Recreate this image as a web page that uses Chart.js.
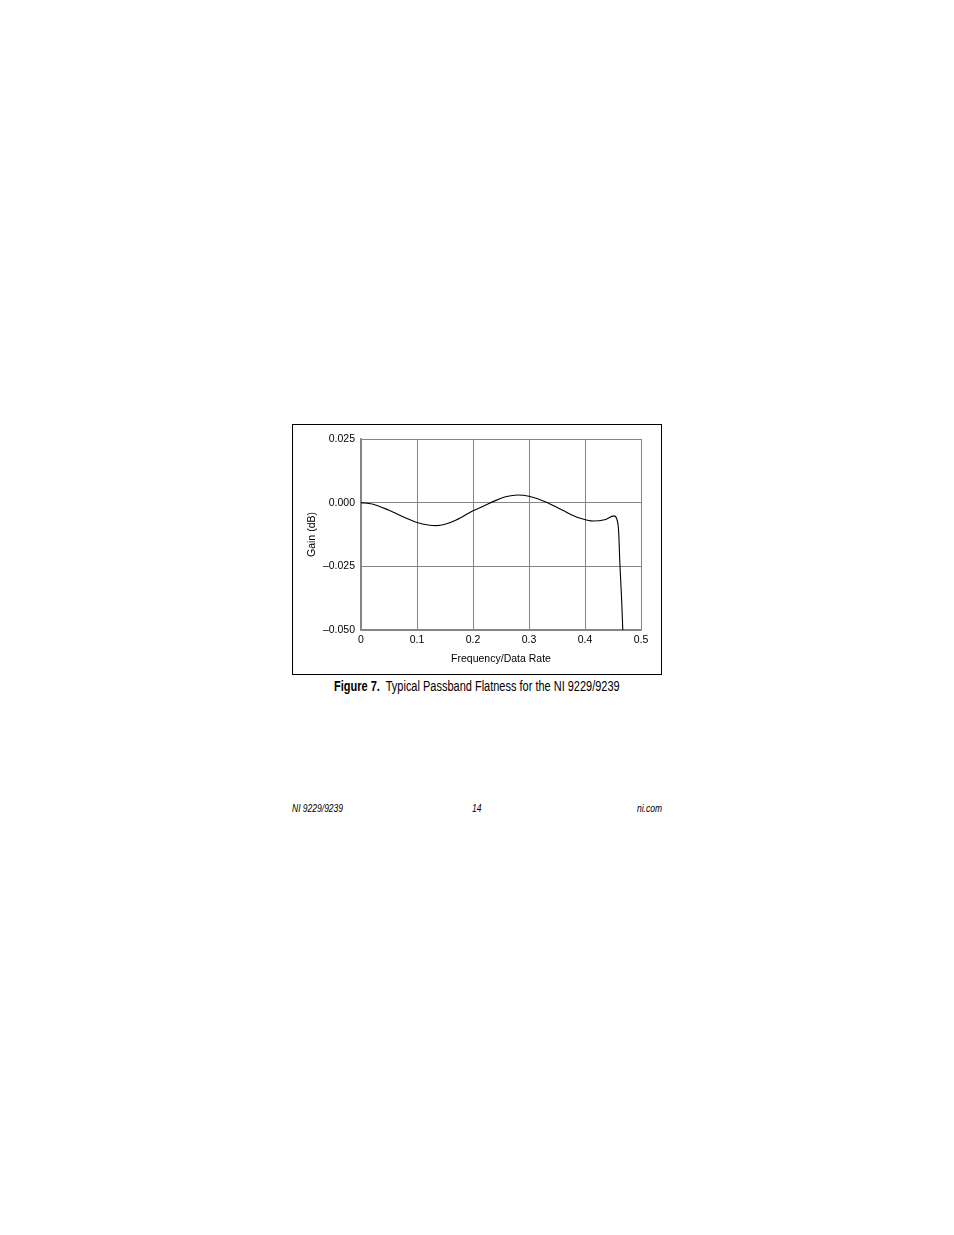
<!DOCTYPE html>
<html>
<head>
<meta charset="utf-8">
<script src="https://cdn.jsdelivr.net/npm/chart.js@4"></script>
<style>
  body { margin: 0; background: #fff; width: 954px; height: 1235px; position: relative; }
  #frame { position: absolute; left: 292px; top: 424px; width: 368px; height: 249px; border: 1px solid #000; }
  #gain { position: absolute; left: 293px; top: 425px; }
  .narrow { font-family: "Liberation Sans", Arial, sans-serif; transform-origin: left center; white-space: pre; }
  #caption { position: absolute; left: 334px; top: 678px; font-size: 14px; line-height: 16px; transform: scaleX(0.785); }
  .foot { position: absolute; top: 803px; font-size: 10px; line-height: 12px; font-style: italic; transform: scaleX(0.85); }
</style>
</head>
<body>
<div id="frame"></div>
<canvas id="gain" width="367" height="248"></canvas>
<div id="caption" class="narrow"><b>Figure 7.</b>  Typical Passband Flatness for the NI 9229/9239</div>
<div class="foot narrow" style="left:292px">NI 9229/9239</div>
<div class="foot narrow" style="left:472px">14</div>
<div class="foot narrow" style="left:637px">ni.com</div>
<script>
// values
const freq = [0, 0.02, 0.05, 0.08, 0.1, 0.12, 0.135, 0.15, 0.17, 0.2, 0.22, 0.24, 0.26, 0.28, 0.3, 0.33, 0.36, 0.39, 0.415, 0.435, 0.452, 0.457, 0.46, 0.4625, 0.4655, 0.468];
const gain = [0, -0.0005, -0.003, -0.006, -0.0078, -0.0088, -0.009, -0.0085, -0.0068, -0.0032, -0.0012, 0.0008, 0.0024, 0.003, 0.0025, 0.0003, -0.003, -0.006, -0.0072, -0.0067, -0.0052, -0.0066, -0.011, -0.025, -0.0385, -0.053];

const xTicks = [0, 0.1, 0.2, 0.3, 0.4, 0.5];
const xTickLabels = ['0', '0.1', '0.2', '0.3', '0.4', '0.5'];
const yTicks = [-0.05, -0.025, 0, 0.025];
const yTickLabels = ['\u20130.050', '\u20130.025', '0.000', '0.025'];

Chart.defaults.font.family = '"Liberation Sans", Arial, sans-serif';
Chart.defaults.font.size = 10.5;
Chart.defaults.color = '#000';

const ctx = document.getElementById('gain');

new Chart(ctx, {
  type: 'line',
  data: {
    datasets: [{
      data: freq.map((f, i) => ({ x: f, y: gain[i] })),
      borderColor: '#000',
      borderWidth: 1.1,
      pointRadius: 0,
      cubicInterpolationMode: 'monotone',
      fill: false
    }]
  },
  options: {
    responsive: false,
    animation: false,
    layout: { padding: { top: 14, right: 19, left: 0, bottom: 0 } },
    plugins: { legend: { display: false }, tooltip: { enabled: false } },
    scales: {
      x: {
        type: 'linear',
        min: 0,
        max: 0.5,
        afterBuildTicks: s => { s.ticks = xTicks.map(v => ({ value: v })); },
        afterFit: s => { s.height = 43; },
        ticks: { padding: 4, maxRotation: 0, callback: (v, i) => xTickLabels[i] },
        grid: { color: '#858585', drawTicks: false },
        border: { color: '#858585', width: 1.5 },
        title: { display: true, text: 'Frequency/Data Rate', padding: { top: 0, bottom: 8 } }
      },
      y: {
        min: -0.05,
        max: 0.025,
        afterBuildTicks: s => { s.ticks = yTicks.map(v => ({ value: v })); },
        afterFit: s => { s.width = 68; },
        ticks: { padding: 6, callback: (v, i) => yTickLabels[i] },
        grid: { color: '#858585', drawTicks: false },
        border: { color: '#858585', width: 1.5 },
        title: { display: true, text: 'Gain (dB)', padding: { top: 13, bottom: 0 } }
      }
    }
  }
});
</script>
</body>
</html>
